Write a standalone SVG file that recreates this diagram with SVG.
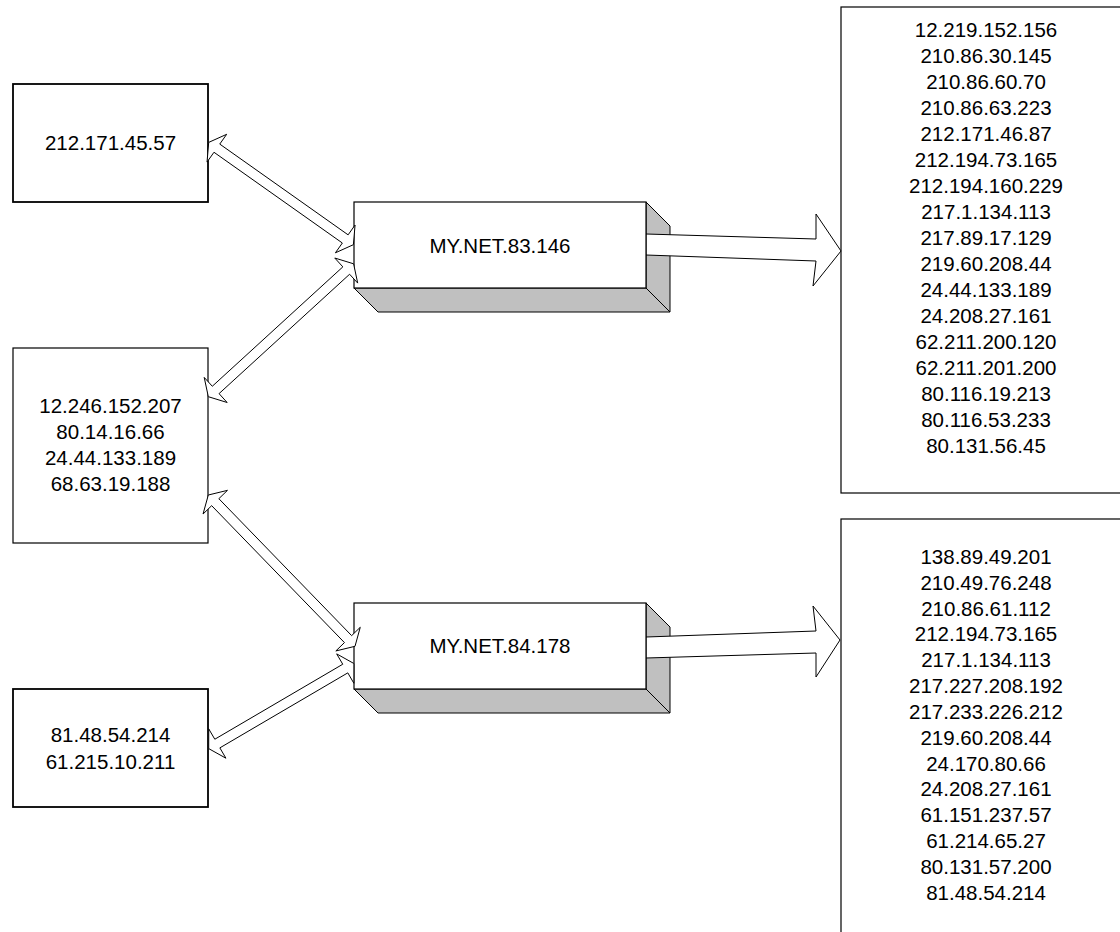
<svg xmlns="http://www.w3.org/2000/svg" width="1120" height="932" viewBox="0 0 1120 932">
<style>
  .box { fill: #ffffff; stroke: #000000; stroke-width: 1.2; }
  .thick { stroke-width: 1.8; }
  .shade { fill: #c0c0c0; stroke: #000000; stroke-width: 1; stroke-linejoin: round; }
  .arrow { fill: #ffffff; stroke: #000000; stroke-width: 1; stroke-linejoin: miter; }
  text { font-family: "Liberation Sans", Arial, sans-serif; font-size: 20.5px; fill: #000000; text-anchor: middle; }
</style>
<rect width="1120" height="932" fill="#ffffff"/>

<g id="node-212-171-45-57">
  <rect class="box thick" x="13" y="84" width="195" height="118"/>
  <text x="110.5" y="150">212.171.45.57</text>
</g>

<g id="node-group-2">
  <rect class="box" x="13" y="348" width="195" height="195"/>
  <text x="110.5" y="413">12.246.152.207</text>
  <text x="110.5" y="439">80.14.16.66</text>
  <text x="110.5" y="465">24.44.133.189</text>
  <text x="110.5" y="491">68.63.19.188</text>
</g>

<g id="node-group-3">
  <rect class="box thick" x="13" y="689" width="195" height="118"/>
  <text x="110.5" y="742">81.48.54.214</text>
  <text x="110.5" y="769">61.215.10.211</text>
</g>

<g id="node-mynet-83-146">
  <polygon class="shade" points="646,202 670,226 670,312 646,288"/>
  <polygon class="shade" points="354,288 378,312 670,312 646,288"/>
</g>

<g id="node-mynet-84-178">
  <polygon class="shade" points="646,603 670,627 670,713 646,689"/>
  <polygon class="shade" points="354,689 378,713 670,713 646,689"/>
</g>

<g id="node-dest-1">
  <rect class="box" x="841" y="7" width="290" height="486"/>
  <text x="986" y="37">12.219.152.156</text>
  <text x="986" y="63">210.86.30.145</text>
  <text x="986" y="89">210.86.60.70</text>
  <text x="986" y="115">210.86.63.223</text>
  <text x="986" y="141">212.171.46.87</text>
  <text x="986" y="167">212.194.73.165</text>
  <text x="986" y="193">212.194.160.229</text>
  <text x="986" y="219">217.1.134.113</text>
  <text x="986" y="245">217.89.17.129</text>
  <text x="986" y="271">219.60.208.44</text>
  <text x="986" y="297">24.44.133.189</text>
  <text x="986" y="323">24.208.27.161</text>
  <text x="986" y="349">62.211.200.120</text>
  <text x="986" y="375">62.211.201.200</text>
  <text x="986" y="401">80.116.19.213</text>
  <text x="986" y="427">80.116.53.233</text>
  <text x="986" y="453">80.131.56.45</text>
</g>

<g id="node-dest-2">
  <rect class="box" x="841" y="519" width="290" height="430"/>
  <text x="986" y="564">138.89.49.201</text>
  <text x="986" y="590">210.49.76.248</text>
  <text x="986" y="616">210.86.61.112</text>
  <text x="986" y="641">212.194.73.165</text>
  <text x="986" y="667">217.1.134.113</text>
  <text x="986" y="693">217.227.208.192</text>
  <text x="986" y="719">217.233.226.212</text>
  <text x="986" y="745">219.60.208.44</text>
  <text x="986" y="771">24.170.80.66</text>
  <text x="986" y="796">24.208.27.161</text>
  <text x="986" y="822">61.151.237.57</text>
  <text x="986" y="848">61.214.65.27</text>
  <text x="986" y="874">80.131.57.200</text>
  <text x="986" y="900">81.48.54.214</text>
</g>

<g id="connectors">
  <polygon class="arrow" points="646,234 816,239 816,214 841,251 813,286 816,261 646,255"/>
  <polygon class="arrow" points="646,637 816,631 813,606 840,640 816,677 816,653 646,658"/>
</g>

<g id="node-mynet-83-146-front">
  <rect class="box" x="354" y="202" width="292" height="86"/>
  <text x="500" y="253">MY.NET.83.146</text>
</g>

<g id="node-mynet-84-178-front">
  <rect class="box" x="354" y="603" width="292" height="86"/>
  <text x="500" y="653">MY.NET.84.178</text>
</g>

<g id="connectors-double">
  <polygon class="arrow" points="208.7,142.4 207.06,162.05 213.98,152.25 342.35,243.01 335.42,252.81 353.4,244.7 355.05,225.05 348.12,234.85 219.76,144.09 226.68,134.29"/>
  <polygon class="arrow" points="208.3,396.7 227.15,402.49 219.05,393.64 349.6,274.24 357.7,283.09 353.6,263.8 334.75,258.01 342.85,266.86 212.31,386.26 204.21,377.41"/>
  <polygon class="arrow" points="208.3,495 203.05,514.02 211.67,505.66 344.45,642.6 335.83,650.96 355,646.3 360.25,627.29 351.63,635.64 218.85,498.7 227.47,490.35"/>
  <polygon class="arrow" points="208.7,748.6 225.92,758.21 219.86,747.86 347.8,672.87 353.87,683.23 353.9,663.5 336.68,653.89 342.75,664.24 214.8,739.22 208.73,728.87"/>
</g>
</svg>
